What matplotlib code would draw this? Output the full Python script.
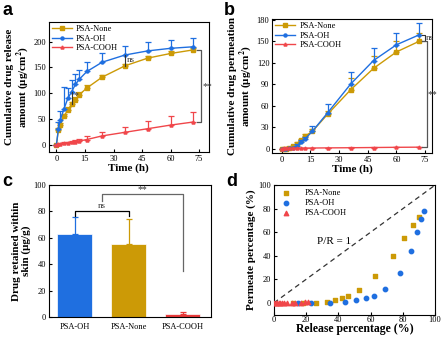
import numpy as np
import matplotlib
matplotlib.use("Agg")
import matplotlib.pyplot as plt

plt.rcParams['font.family'] = ['Liberation Serif', 'DejaVu Serif']
plt.rcParams['mathtext.fontset'] = 'stix'
plt.rcParams['xtick.direction'] = 'in'
plt.rcParams['ytick.direction'] = 'in'
plt.rcParams['xtick.major.pad'] = 2
plt.rcParams['ytick.major.pad'] = 2
plt.rcParams['xtick.major.size'] = 2.5
plt.rcParams['ytick.major.size'] = 2.5
plt.rcParams['font.size'] = 6

# colours
c_none = '#CC9A06'
c_oh = '#1F6FE0'
c_cooh = '#F0464A'

# panel a: cumulative release
t = [0, 1, 2, 4, 6, 8, 10, 12, 16, 24, 36, 48, 60, 72]
rel_none = [0, 28, 38, 55, 68, 78, 87, 97, 110, 131, 153, 168, 177, 184]
rel_none_err = [0, 4, 5, 5, 5, 5, 5, 5, 5, 5, 4, 4, 4, 3]
rel_oh = [0, 30, 48, 70, 90, 103, 117, 127, 142, 160, 174, 182, 187, 190]
rel_oh_err = [0, 14, 17, 41, 20, 22, 20, 18, 18, 18, 17, 17, 17, 17]
rel_cooh = [0, 1, 2, 3, 4, 5, 6, 7, 10, 17, 24, 31, 38, 44]
rel_cooh_err = [0, 1, 1, 2, 2, 3, 3, 4, 6, 7, 11, 14, 17, 20]

# panel b: cumulative permeation
perm_none = [0, 0, 0, 0.5, 3, 7, 12, 17, 24, 48, 82, 112, 135, 150]
perm_none_err = [0, 0, 0, 0.5, 1, 2, 2, 3, 4, 4, 17, 17, 15, 12]
perm_oh = [0, 0, 0, 0.5, 1.5, 4, 9, 13, 24, 50, 90, 123, 145, 159]
perm_oh_err = [0, 0, 0, 0.5, 1, 2, 3, 3, 8, 12, 17, 18, 17, 16]
perm_cooh = [0, 0.2, 0.3, 0.4, 0.5, 0.5, 0.6, 0.7, 0.8, 1.0, 1.2, 1.5, 1.8, 2.0]
perm_cooh_err = [0, 0.2, 0.2, 0.2, 0.3, 0.3, 0.3, 0.3, 0.4, 0.4, 0.5, 0.5, 0.5, 0.5]

# panel c: retained in skin
groups = ['PSA-OH', 'PSA-None', 'PSA-COOH']
retained = [63, 55, 2.5]
retained_err = [13, 19, 1.5]

# panel d: permeate vs release percentage
d_none_x = [12, 18, 26, 33, 38, 42, 46, 53, 63, 74, 81, 86, 90]
d_none_y = [0, 0, 0, 1, 2, 4, 6, 11, 23, 40, 55, 66, 73]
d_oh_x = [15, 23, 35, 44, 51, 57, 62, 69, 78, 85, 89, 91, 93]
d_oh_y = [0, 0, 0, 0.5, 2, 4, 6, 12, 25, 44, 60, 71, 78]
d_cooh_x = [0, 1, 2, 3, 4, 5, 6, 8, 11, 13, 17, 19, 21]
d_cooh_y = [0, 0, 0, 0, 0, 0, 0, 0, 0, 0, 0, 0.5, 1]

fig = plt.figure(figsize=(4.44, 3.39), dpi=100)

lab = dict(fontsize=8, fontweight='bold')
letter = dict(fontsize=13, fontweight='bold', family='Liberation Sans')


def curve_plot(ax, ys, errs):
    for y, e, c, m, name in zip(ys, errs, [c_none, c_oh, c_cooh], ['s', 'o', '^'],
                                ['PSA-None', 'PSA-OH', 'PSA-COOH']):
        ax.errorbar(t, y, yerr=[np.zeros(len(e)), e], color=c, fmt='none',
                    elinewidth=0.9, capsize=2, capthick=0.9)
        ax.plot(t, y, color=c, marker=m, ms=2.2, lw=1, label=name)
    ax.legend(loc='upper left', frameon=False, fontsize=6, handlelength=2.4,
              borderaxespad=0.15, labelspacing=0.2, handletextpad=0.5,
              borderpad=0.2)
    ax.set_xticks(range(0, 76, 15))
    ax.set_xlabel('Time (h)', labelpad=0.5, **lab)


# a
ax = fig.add_axes([0.110, 0.552, 0.360, 0.383])
curve_plot(ax, [rel_none, rel_oh, rel_cooh], [rel_none_err, rel_oh_err, rel_cooh_err])
ax.set_xlim(-4, 80)
ax.set_ylim(-14, 238)
ax.set_yticks(range(0, 201, 50))
ax.set_ylabel('Cumulative drug release\namount (μg/cm$^\\mathbf{2}$)', labelpad=2, linespacing=1.0, **lab)
ax.plot([8, 8], [rel_none[5], rel_oh[5]], color='#333333', lw=0.8)
ax.text(8.8, 90, '*', fontsize=7, color='#333333')
ax.plot([36, 36], [rel_none[10], rel_oh[10]], color='#333333', lw=0.8)
ax.text(37, 160, 'ns', fontsize=6.5, color='#333333')
ax.plot([74, 76, 76, 74], [rel_none[-1], rel_none[-1], rel_cooh[-1], rel_cooh[-1]], color='#555555', lw=0.9)
ax.text(76.5, 112, '**', fontsize=7, color='#333333', va='center')
fig.text(0.005, 0.995, 'a', va='top', **letter)

# b
ax = fig.add_axes([0.613, 0.549, 0.360, 0.395])
curve_plot(ax, [perm_none, perm_oh, perm_cooh], [perm_none_err, perm_oh_err, perm_cooh_err])
ax.set_xlim(-5, 78.6)
ax.set_ylim(-6, 181)
ax.set_yticks(range(0, 181, 30))
ax.set_ylabel('Cumulative drug permeation\namount (μg/cm$^\\mathbf{2}$)', labelpad=2, linespacing=1.0, **lab)
ax.plot([73.5, 75, 75, 73.5], [perm_oh[-1], perm_oh[-1], perm_none[-1], perm_none[-1]], color='#333333', lw=0.8)
ax.text(75.3, 154, 'ns', fontsize=6.5, color='#333333', va='center')
ax.plot([73.5, 76, 76, 73.5], [perm_none[-1], perm_none[-1], perm_cooh[-1], perm_cooh[-1]], color='#555555', lw=0.9)
ax.text(76.3, 76, '**', fontsize=7, color='#333333', va='center')
fig.text(0.505, 0.995, 'b', va='top', **letter)

# c
ax = fig.add_axes([0.110, 0.065, 0.365, 0.389])
x = np.arange(len(groups))
bar_c = [c_oh, c_none, '#E83A3A']
ax.bar(x, retained, width=0.65, color=bar_c, edgecolor='white', lw=0.5)
for xi, v, e, c in zip(x, retained, retained_err, bar_c):
    ax.errorbar(xi, v, yerr=[[0], [e]], color=c, capsize=2, elinewidth=0.9, capthick=0.9)
ax.set_xlim(-0.48, 2.52)
ax.set_ylim(0, 100)
ax.set_xticks(x)
ax.set_xticklabels(groups, fontsize=6)
ax.tick_params(axis='x', length=0, pad=4)
ax.set_yticks(range(0, 101, 20))
ax.set_ylabel('Drug retained within\nskin (μg/g)', labelpad=2, linespacing=1.0, **lab)
ax.plot([0, 0, 1, 1], [76.5, 80.5, 80.5, 76.5], color='black', lw=0.9)
ax.text(0.5, 81, 'ns', ha='center', va='bottom', fontsize=6.5, color='#333333')
ax.plot([0.5, 0.5, 2, 2], [88, 93, 93, 35], color='#666666', lw=0.9)
ax.text(1.25, 93.5, '**', ha='center', va='bottom', fontsize=7, color='#333333')
fig.text(0.005, 0.49, 'c', va='top', **letter)

# d
ax = fig.add_axes([0.617, 0.072, 0.363, 0.382])
ax.plot([0, 100], [0, 100], ls=(0, (4, 3)), color='#333333', lw=0.9)
ax.scatter(d_none_x, d_none_y, marker='s', s=10, color=c_none, label='PSA-None', zorder=3)
ax.scatter(d_oh_x, d_oh_y, marker='o', s=10, color=c_oh, label='PSA-OH', zorder=3)
ax.scatter(d_cooh_x, d_cooh_y, marker='^', s=10, color=c_cooh, label='PSA-COOH', zorder=3)
ax.legend(loc='upper left', frameon=False, fontsize=6, handletextpad=1.2,
          borderaxespad=0.2, labelspacing=0.25, borderpad=0.3)
ax.text(37, 52, 'P/R = 1', fontsize=8, ha='center', va='center')
ax.set_xlim(0, 100)
ax.set_ylim(-10, 100)
ax.set_xticks(range(0, 101, 20))
ax.set_yticks(range(0, 101, 20))
ax.tick_params(axis='x', pad=1)
ax.set_xlabel('Release percentage (%)', labelpad=-0.5, fontsize=8.5, fontweight='bold')
ax.set_ylabel('Permeate percentage (%)', labelpad=2, fontsize=8, fontweight='bold')
fig.text(0.51, 0.49, 'd', va='top', **letter)

fig.savefig('out.png', dpi=100)
